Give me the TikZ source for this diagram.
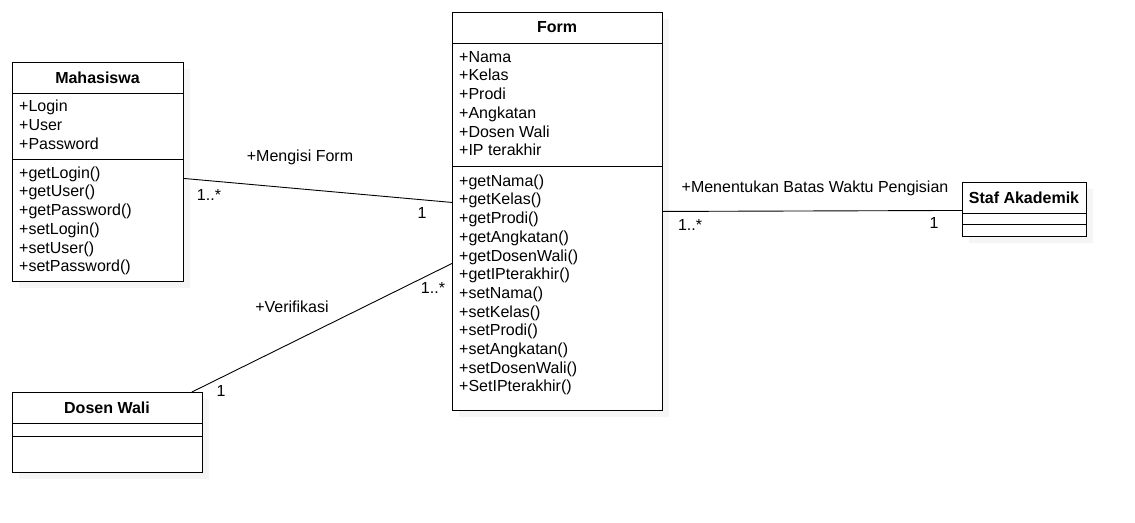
\documentclass[tikz,border=0pt]{standalone}
\usepackage{fontspec}
\setmainfont{Liberation Sans}
\usetikzlibrary{calc}
\begin{document}
\begin{tikzpicture}[x=1pt,y=-1pt,
  classbox/.style={draw=black,line width=0.9pt,fill=white,inner sep=0pt,anchor=north west},
  shade/.style={fill=black!4,draw=none},
  divider/.style={draw=black,line width=0.9pt},
  title/.style={font=\fontsize{16}{18}\selectfont\bfseries,inner sep=0pt},
  member/.style={font=\fontsize{16}{18.7}\selectfont,align=left,anchor=north west,inner sep=0pt},
  lbl/.style={font=\fontsize{16}{18}\selectfont,inner sep=0pt},
  assoc/.style={draw=black,line width=0.9pt}]
\useasboundingbox (0,0) rectangle (1135,522);
\fill[white] (0,0) rectangle (1135,522);
% shadows
\fill[shade] (19,69) rectangle (190,288);
\fill[shade] (459,19) rectangle (669,417);
\fill[shade] (19,399) rectangle (209,479);
\fill[shade] (969,189) rectangle (1093,243);
% Mahasiswa
\node[classbox,minimum width=171pt,minimum height=219pt] (mhs) at (12,62) {};
\draw[divider] (12,93) -- (183,93);
\draw[divider] (12,159) -- (183,159);
\node[title] (mhst) at (97.5,77.5) {Mahasiswa};
\node[member] (mhsa) at (19,100) {+Login\\+User\\+Password};
\node[member] (mhsm) at (19,166.5) {+getLogin()\\+getUser()\\+getPassword()\\+setLogin()\\+setUser()\\+setPassword()};
% Form
\node[classbox,minimum width=210pt,minimum height=398pt] (form) at (452,12) {};
\draw[divider] (452,43) -- (662,43);
\draw[divider] (452,166) -- (662,166);
\node[title] (formt) at (557,27.5) {Form};
\node[member] (forma) at (459,51) {+Nama\\+Kelas\\+Prodi\\+Angkatan\\+Dosen Wali\\+IP terakhir};
\node[member] (formm) at (459,174.5) {+getNama()\\+getKelas()\\+getProdi()\\+getAngkatan()\\+getDosenWali()\\+getIPterakhir()\\+setNama()\\+setKelas()\\+setProdi()\\+setAngkatan()\\+setDosenWali()\\+SetIPterakhir()};
% Dosen Wali
\node[classbox,minimum width=190pt,minimum height=80pt] (dsn) at (12,392) {};
\draw[divider] (12,423) -- (202,423);
\draw[divider] (12,436) -- (202,436);
\node[title] (dsnt) at (107,407.5) {Dosen Wali};
% Staf Akademik
\node[classbox,minimum width=124pt,minimum height=54pt] (staf) at (962,182) {};
\draw[divider] (962,213) -- (1086,213);
\draw[divider] (962,224) -- (1086,224);
\node[title] (staft) at (1024,198) {Staf Akademik};
% associations
\draw[assoc] ([yshift=-6.5pt]mhs.east) -- ([yshift=9pt]form.west);
\draw[assoc] ([xshift=-11pt]dsn.north east) -- ([yshift=-52pt]form.west);
\draw[assoc] (form.east) -- ([yshift=-1pt]staf.west);
% labels
\node[lbl] (l1) at (300,157) {+Mengisi Form};
\node[lbl] (l2) at (209,195) {1..*};
\node[lbl] (l3) at (422,213) {1};
\node[lbl] (l4) at (292,307) {+Verifikasi};
\node[lbl] (l5) at (433,288) {1..*};
\node[lbl] (l6) at (221,391) {1};
\node[lbl] (l7) at (815,188) {+Menentukan Batas Waktu Pengisian};
\node[lbl] (l8) at (690,225) {1..*};
\node[lbl] (l9) at (934,223) {1};
\end{tikzpicture}
\end{document}
